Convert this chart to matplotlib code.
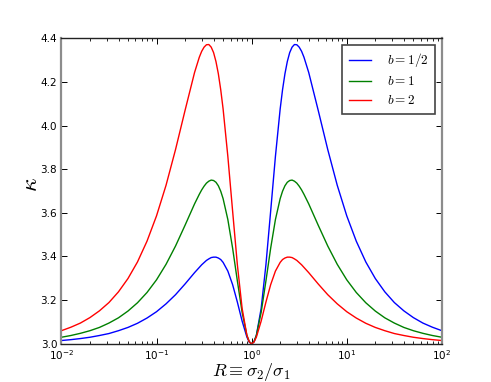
import numpy as np
import matplotlib
matplotlib.use("Agg")
import matplotlib.pyplot as plt

# R = sigma_2 / sigma_1, sampled densely around the peaks and the minimum at R = 1
R = [0.01, 0.01259, 0.01585, 0.01995, 0.02512, 0.03162, 0.03981, 0.05012,
     0.0631, 0.07943, 0.1, 0.1259, 0.1585, 0.1995, 0.2512,
     0.2818, 0.2985, 0.3162, 0.3350, 0.3548, 0.3758, 0.3981, 0.4217, 0.4467,
     0.4732, 0.5012,
     0.5623, 0.631, 0.7079, 0.7943, 0.8913, 0.9441, 1.0, 1.059, 1.122, 1.259,
     1.413, 1.585, 1.778,
     1.995, 2.113, 2.239, 2.371, 2.512, 2.661, 2.818, 2.985, 3.162, 3.350,
     3.548, 3.981,
     5.012, 6.31, 7.943, 10.0, 12.59, 15.85, 19.95, 25.12, 31.62, 39.81,
     50.12, 63.1, 79.43, 100.0]

kappa_half = [3.015, 3.019, 3.024, 3.030, 3.038, 3.047, 3.060, 3.075,
              3.094, 3.118, 3.147, 3.183, 3.225, 3.274, 3.326,
              3.350, 3.362, 3.372, 3.382, 3.389, 3.395, 3.397, 3.397, 3.393,
              3.386, 3.373,
              3.333, 3.271, 3.191, 3.104, 3.031, 3.008, 3.000, 3.009, 3.039, 3.162,
              3.362, 3.608, 3.858,
              4.076, 4.164, 4.237, 4.293, 4.334, 4.359, 4.371, 4.370, 4.359, 4.340,
              4.313, 4.243,
              4.069, 3.890, 3.726, 3.586, 3.470, 3.375, 3.299, 3.238, 3.189, 3.151,
              3.120, 3.095, 3.076, 3.060]

kappa_one = [3.030, 3.038, 3.048, 3.060, 3.075, 3.095, 3.119, 3.150,
             3.188, 3.235, 3.293, 3.364, 3.448, 3.543, 3.641,
             3.685, 3.705, 3.722, 3.736, 3.745, 3.750, 3.748, 3.740, 3.724,
             3.699, 3.665,
             3.569, 3.438, 3.288, 3.144, 3.039, 3.010, 3.000, 3.010, 3.039, 3.144,
             3.288, 3.438, 3.569,
             3.665, 3.699, 3.724, 3.740, 3.748, 3.750, 3.745, 3.736, 3.722, 3.705,
             3.685, 3.641,
             3.543, 3.448, 3.364, 3.293, 3.235, 3.188, 3.150, 3.119, 3.095, 3.075,
             3.060, 3.048, 3.038, 3.030]

kappa_two = [3.060, 3.076, 3.095, 3.120, 3.151, 3.189, 3.238, 3.299,
             3.375, 3.470, 3.586, 3.726, 3.890, 4.069, 4.243,
             4.313, 4.340, 4.359, 4.370, 4.371, 4.359, 4.334, 4.293, 4.237,
             4.164, 4.076,
             3.858, 3.608, 3.362, 3.162, 3.039, 3.009, 3.000, 3.008, 3.031, 3.104,
             3.191, 3.271, 3.333,
             3.373, 3.386, 3.393, 3.397, 3.397, 3.395, 3.389, 3.382, 3.372, 3.362,
             3.350, 3.326,
             3.274, 3.225, 3.183, 3.147, 3.118, 3.094, 3.075, 3.060, 3.047, 3.038,
             3.030, 3.024, 3.019, 3.015]

labels = [r"$b=1/2$", r"$b=1$", r"$b=2$"]
colors = ["b", "g", "r"]

fig = plt.figure(figsize=(4.91, 3.82), dpi=100)
ax = fig.add_axes([0.125, 0.1, 0.775, 0.8])

for y, c, lab in zip([kappa_half, kappa_one, kappa_two], colors, labels):
    ax.plot(R, y, color=c, lw=1.0, label=lab, solid_joinstyle="round")

ax.set_xscale("log")
ax.set_xlim(1e-2, 1e2)
ax.set_ylim(3.0, 4.4)
ax.set_yticks(np.arange(3.0, 4.41, 0.2))

ax.tick_params(which="both", direction="in", top=True, right=True,
               labelsize=7.5, pad=3)
ax.tick_params(which="major", length=4, width=0.7)
ax.tick_params(which="minor", length=2, width=0.6)

# side spines look grey and heavier in the original
for side in ["left", "right"]:
    ax.spines[side].set_color("#8c8c8c")
    ax.spines[side].set_linewidth(1.6)
for side in ["top", "bottom"]:
    ax.spines[side].set_color("#222222")
    ax.spines[side].set_linewidth(1.0)

ax.set_xlabel(r"$R{\equiv}\sigma_2/\sigma_1$", fontsize=13,
              math_fontfamily="cm")
ax.xaxis.set_label_coords(0.5, -0.055)
ax.set_ylabel(r"$\kappa$", fontsize=17, math_fontfamily="cm")
ax.yaxis.set_label_coords(-0.05, 0.52)

leg = ax.legend(loc="upper right", fontsize=9.5, handlelength=1.7,
                handletextpad=1.2, labelspacing=0.45, borderpad=0.5,
                borderaxespad=0.5, fancybox=False, framealpha=1)
leg.get_frame().set_edgecolor("#444444")
leg.get_frame().set_linewidth(1.2)
for t in leg.get_texts():
    t.set_math_fontfamily("cm")

fig.savefig("out.png", dpi=100, facecolor="white")
